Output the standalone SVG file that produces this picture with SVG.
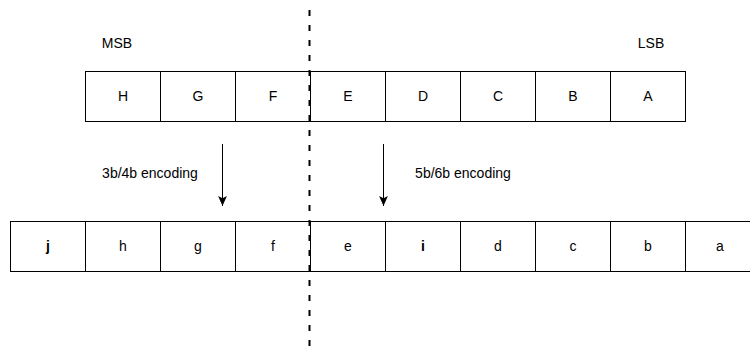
<svg xmlns="http://www.w3.org/2000/svg" width="750" height="355" viewBox="0 0 750 355">
  <style>
    .box { fill: #ffffff; stroke: #000000; stroke-width: 1; }
    .lbl { font-family: "Liberation Sans", Arial, sans-serif; font-size: 14px; fill: #000000; text-anchor: middle; dominant-baseline: central; }
    .bold { font-weight: bold; }
    .arrow { stroke: #000000; stroke-width: 1; fill: none; marker-end: url(#head); }
    .divider { stroke: #000000; stroke-width: 2; stroke-dasharray: 6 9; fill: none; }
  </style>
  <defs>
    <marker id="head" viewBox="0 0 10 10" refX="9" refY="5" markerWidth="11" markerHeight="11" markerUnits="userSpaceOnUse" orient="auto">
      <path d="M0,1 L9,5 L0,9 L2,5 Z" fill="#000000"/>
    </marker>
  </defs>
  <rect width="750" height="355" fill="#ffffff"/>

  <!-- Byte labels -->
  <g id="msb"><text class="lbl" x="117" y="43">MSB</text></g>
  <g id="lsb"><text class="lbl" x="651" y="43">LSB</text></g>

  <!-- Input byte bits HGFEDCBA -->
  <g id="in-H"><rect class="box" x="85.5" y="71.5" width="75" height="50"/><text class="lbl" x="123" y="96">H</text></g>
  <g id="in-G"><rect class="box" x="160.5" y="71.5" width="75" height="50"/><text class="lbl" x="198" y="96">G</text></g>
  <g id="in-F"><rect class="box" x="235.5" y="71.5" width="75" height="50"/><text class="lbl" x="273" y="96">F</text></g>
  <g id="in-E"><rect class="box" x="310.5" y="71.5" width="75" height="50"/><text class="lbl" x="348" y="96">E</text></g>
  <g id="in-D"><rect class="box" x="385.5" y="71.5" width="75" height="50"/><text class="lbl" x="423" y="96">D</text></g>
  <g id="in-C"><rect class="box" x="460.5" y="71.5" width="75" height="50"/><text class="lbl" x="498" y="96">C</text></g>
  <g id="in-B"><rect class="box" x="535.5" y="71.5" width="75" height="50"/><text class="lbl" x="573" y="96">B</text></g>
  <g id="in-A"><rect class="box" x="610.5" y="71.5" width="75" height="50"/><text class="lbl" x="648" y="96">A</text></g>

  <!-- Encoded 10-bit symbol jhgfeidcba -->
  <g id="out-j"><rect class="box" x="10.5" y="221.5" width="75" height="50"/><text class="lbl bold" x="48" y="246">j</text></g>
  <g id="out-h"><rect class="box" x="85.5" y="221.5" width="75" height="50"/><text class="lbl" x="123" y="246">h</text></g>
  <g id="out-g"><rect class="box" x="160.5" y="221.5" width="75" height="50"/><text class="lbl" x="198" y="246">g</text></g>
  <g id="out-f"><rect class="box" x="235.5" y="221.5" width="75" height="50"/><text class="lbl" x="273" y="246">f</text></g>
  <g id="out-e"><rect class="box" x="310.5" y="221.5" width="75" height="50"/><text class="lbl" x="348" y="246">e</text></g>
  <g id="out-i"><rect class="box" x="385.5" y="221.5" width="75" height="50"/><text class="lbl bold" x="423" y="246">i</text></g>
  <g id="out-d"><rect class="box" x="460.5" y="221.5" width="75" height="50"/><text class="lbl" x="498" y="246">d</text></g>
  <g id="out-c"><rect class="box" x="535.5" y="221.5" width="75" height="50"/><text class="lbl" x="573" y="246">c</text></g>
  <g id="out-b"><rect class="box" x="610.5" y="221.5" width="75" height="50"/><text class="lbl" x="648" y="246">b</text></g>
  <g id="out-a"><rect class="box" x="685.5" y="221.5" width="75" height="50"/><text class="lbl" x="720" y="246">a</text></g>

  <!-- Encoding labels -->
  <g id="enc-34"><text class="lbl" x="150" y="173">3b/4b encoding</text></g>
  <g id="enc-56"><text class="lbl" x="463" y="173">5b/6b encoding</text></g>

  <!-- Connectors -->
  <g id="connectors">
    <line class="divider" x1="309.5" y1="10" x2="309.5" y2="355"/>
    <line class="arrow" x1="222.5" y1="144" x2="222.5" y2="206"/>
    <line class="arrow" x1="383.5" y1="144" x2="383.5" y2="206"/>
  </g>
</svg>
